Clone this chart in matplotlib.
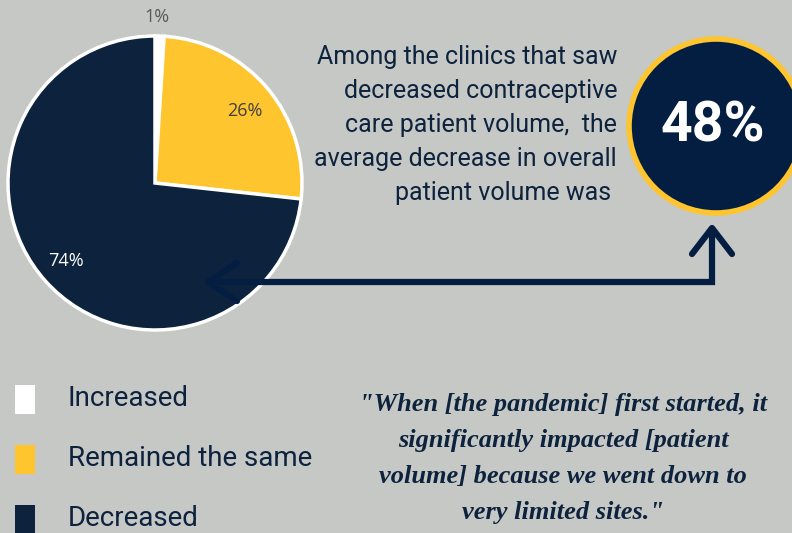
import matplotlib.pyplot as plt
from matplotlib.patches import Circle, Rectangle

categories = ["Increased", "Remained the same", "Decreased"]
shares = [1, 26, 74]
share_labels = ["1%", "26%", "74%"]
colors = ["#FFFFFF", "#FFC52F", "#0D223D"]

headline = "48%"
blurb = ["Among the clinics that saw",
         "decreased contraceptive",
         "care patient volume,  the",
         "average decrease in overall",
         "patient volume was "]
quote = ["\"When [the pandemic] first started, it",
         "significantly impacted [patient",
         "volume] because we went down to",
         "very limited sites.\""]

bg = "#C6C8C5"
navy = "#0D223D"
navy2 = "#041E42"
yellow = "#FFC52F"

W, H = 792, 533
fig = plt.figure(figsize=(W / 100, H / 100), dpi=100, facecolor=bg)

# pie first, everything else drawn over it
cx, cy, r = 155, 183, 147
pax = fig.add_axes([(cx - r) / W, (H - cy - r) / H, 2 * r / W, 2 * r / H])
pax.pie(shares, colors=colors, startangle=90, counterclock=False, radius=1,
        wedgeprops=dict(edgecolor="white", linewidth=2.5))
pax.set_xlim(-1.0, 1.0)
pax.set_ylim(-1.0, 1.0)
pax.set_aspect("equal")
pax.axis("off")

# overlay axes in pixel units
ax = fig.add_axes([0, 0, 1, 1])
ax.set_facecolor("none")
ax.set_xlim(0, W)
ax.set_ylim(H, 0)
ax.axis("off")

lab_font = "Open Sans"
ax.text(157, 17, share_labels[0], ha="center", va="center", fontsize=13,
        color="#595959", family=lab_font)
ax.text(245, 111, share_labels[1], ha="center", va="center", fontsize=13,
        color="#404040", family=lab_font)
ax.text(66, 261, share_labels[2], ha="center", va="center", fontsize=13,
        color="white", family=lab_font)

# arrow: from pie to circle
lw = 4.5
ax.plot([207, 712, 712], [282, 282, 228], color=navy2, lw=lw,
        solid_capstyle="butt", solid_joinstyle="miter", zorder=3)
ax.plot([237, 208, 237], [263, 282, 301], color=navy2, lw=lw,
        solid_capstyle="round", zorder=3)
ax.plot([692, 712, 732], [254, 228, 254], color=navy2, lw=lw,
        solid_capstyle="round", zorder=3)

# big circle
ax.add_patch(Circle((716, 126), 87, facecolor=navy2, edgecolor=yellow,
                    linewidth=4, zorder=2))
ax.text(713, 127, headline, ha="center", va="center", fontsize=40,
        fontweight="bold", color="white", family="Roboto", zorder=4)

# description text
for i, line in enumerate(blurb):
    ax.text(617, 57 + i * 34, line, ha="right", va="center", fontsize=18,
            color=navy, family="Roboto")

# legend
for i, (name, c) in enumerate(zip(categories, colors)):
    y = 399 + i * 60
    ax.add_patch(Rectangle((15, y - 14), 20, 29, facecolor=c, edgecolor="none"))
    ax.text(68, y - 1, name, ha="left", va="center", fontsize=20,
            color=navy, family="Roboto")

# quote
for i, line in enumerate(quote):
    ax.text(563, 405 + i * 36, line, ha="center", va="center", fontsize=19,
            color=navy, family="Liberation Serif", fontweight="bold",
            fontstyle="italic")

fig.savefig("out.png", dpi=100, facecolor=bg)
